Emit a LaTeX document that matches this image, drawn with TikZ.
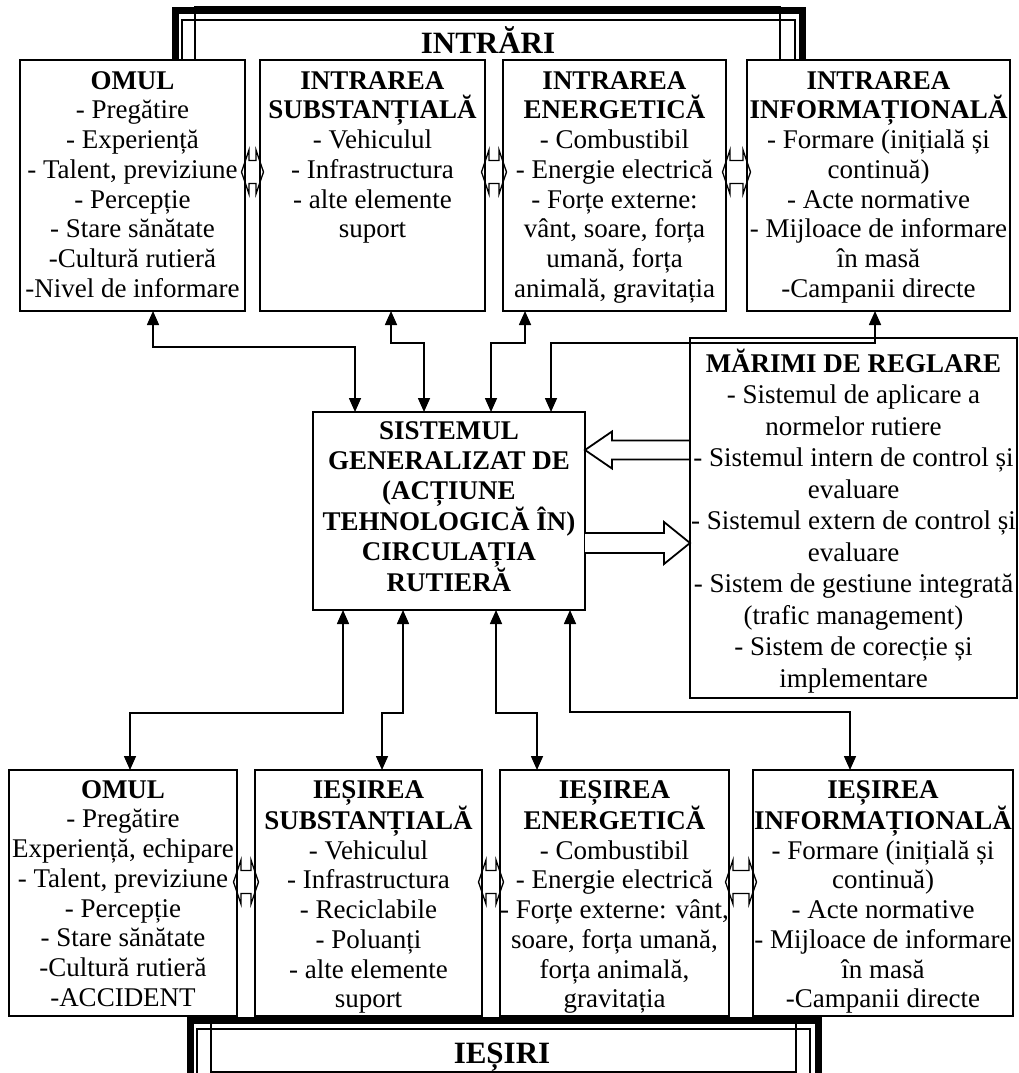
\documentclass[tikz,border=0pt]{standalone}
\usepackage{fontspec}
\setmainfont{Liberation Serif}
\usetikzlibrary{arrows.meta,calc}
\newcommand\dblarr[3]{%
  \draw[dblsym] let \p1=(#1.east), \p2=(#2.west) in
   (\x1-3.5pt,-#3pt) -- (\x1+4pt,-#3pt+22pt) -- (\x1+4pt,-#3pt+11.5pt) -- (\x2-4pt,-#3pt+11.5pt) -- (\x2-4pt,-#3pt+22pt) -- (\x2+3.5pt,-#3pt) -- (\x2-4pt,-#3pt-22pt) -- (\x2-4pt,-#3pt-11.5pt) -- (\x1+4pt,-#3pt-11.5pt) -- (\x1+4pt,-#3pt-22pt) -- cycle;}
\newcommand\fl{\rule{0pt}{26pt}}
\begin{document}
\begin{tikzpicture}[x=1pt,y=-1pt,
  box/.style={draw,line width=1.8pt,inner sep=0pt,outer sep=0pt,anchor=north west},
  txt/.style={align=center,inner sep=0pt,anchor=north,font=\fontsize{27}{29.7}\selectfont},
  txtr/.style={align=center,inner sep=0pt,anchor=north,font=\fontsize{27}{31.5}\selectfont},
  conn/.style={line width=1.6pt,{Triangle[length=14pt,width=12pt]}-{Triangle[length=14pt,width=12pt]}},
  dblsym/.style={line width=1.3pt,line join=miter},
  hollow/.style={line width=1.8pt,fill=white,line join=miter},
  ttl/.style={font=\bfseries\fontsize{31}{31}\selectfont,anchor=base,inner sep=0pt},
]
\fill[white] (0,0) rectangle (1019,1073);
\useasboundingbox (0,0) rectangle (1019,1073);

% top boxes
\node[box,minimum width=225pt,minimum height=251pt] (i1) at (20,60) {};
\node[box,minimum width=225pt,minimum height=251pt] (i2) at (260,60) {};
\node[box,minimum width=223pt,minimum height=251pt] (i3) at (503,60) {};
\node[box,minimum width=263pt,minimum height=251pt] (i4) at (747,60) {};
% central and right
\node[box,minimum width=272pt,minimum height=198pt] (c) at (313,412) {};
\node[box,minimum width=327pt,minimum height=360pt] (r) at (690,338) {};
% bottom boxes
\node[box,minimum width=228pt,minimum height=246pt] (o1) at (9,770) {};
\node[box,minimum width=227pt,minimum height=246pt] (o2) at (255,770) {};
\node[box,minimum width=229pt,minimum height=246pt] (o3) at (500,770) {};
\node[box,minimum width=260pt,minimum height=246pt] (o4) at (753,770) {};

% texts
\node[txt] (ti1) at ($(i1.north)+(0,3)$) {\fl\textbf{OMUL}\\- Pregătire\\- Experiență\\- Talent, previziune\\- Percepție\\- Stare sănătate\\-Cultură rutieră\\-Nivel de informare};
\node[txt] (ti2) at ($(i2.north)+(0,3)$) {\fl\textbf{INTRAREA}\\\textbf{SUBSTANȚIALĂ}\\- Vehiculul\\- Infrastructura\\- alte elemente\\suport};
\node[txt] (ti3) at ($(i3.north)+(0,3)$) {\fl\textbf{INTRAREA}\\\textbf{ENERGETICĂ}\\- Combustibil\\- Energie electrică\\- Forțe externe:\\vânt, soare, forța\\umană, forța\\animală, gravitația};
\node[txt] (ti4) at ($(i4.north)+(0,3)$) {\fl\textbf{INTRAREA}\\\textbf{INFORMAȚIONALĂ}\\- Formare (inițială și\\continuă)\\- Acte normative\\- Mijloace de informare\\în masă\\-Campanii directe};
\node[txt,font=\bfseries\fontsize{27}{30}\selectfont] (tc) at ($(c.north)+(0,1)$) {\fl SISTEMUL\\GENERALIZAT DE\\(ACȚIUNE\\TEHNOLOGICĂ ÎN)\\CIRCULAȚIA\\RUTIERĂ};
\node[txtr] (tr) at ($(r.north)+(0,8)$) {\fl\textbf{MĂRIMI DE REGLARE}\\- Sistemul de aplicare a\\normelor rutiere\\- Sistemul intern de control și\\evaluare\\- Sistemul extern de control și\\evaluare\\- Sistem de gestiune integrată\\(trafic management)\\- Sistem de corecție și\\implementare};
\node[txt] (to1) at ($(o1.north)+(0,2)$) {\fl\textbf{OMUL}\\- Pregătire\\Experiență, echipare\\- Talent, previziune\\- Percepție\\- Stare sănătate\\-Cultură rutieră\\-ACCIDENT};
\node[txt] (to2) at ($(o2.north)+(0,2)$) {\fl\textbf{IEȘIREA}\\\textbf{SUBSTANȚIALĂ}\\- Vehiculul\\- Infrastructura\\- Reciclabile\\- Poluanți\\- alte elemente\\suport};
\node[txt] (to3) at ($(o3.north)+(0,2)$) {\fl\textbf{IEȘIREA}\\\textbf{ENERGETICĂ}\\- Combustibil\\- Energie electrică\\- Forțe externe: vânt,\\soare, forța umană,\\forța animală,\\gravitația};
\node[txt] (to4) at ($(o4.north)+(0,2)$) {\fl\textbf{IEȘIREA}\\\textbf{INFORMAȚIONALĂ}\\- Formare (inițială și\\continuă)\\- Acte normative\\- Mijloace de informare\\în masă\\-Campanii directe};

% double arrows between boxes
\dblarr{i1}{i2}{172}
\dblarr{i2}{i3}{172}
\dblarr{i3}{i4}{172}
\dblarr{o1}{o2}{882}
\dblarr{o2}{o3}{882}
\dblarr{o3}{o4}{882}

% connectors top
\draw[conn] (i1.south -| 153,0) |- (355,347) -- (c.north -| 355,0);
\draw[conn] (i2.south -| 391,0) |- (424,343) -- (c.north -| 424,0);
\draw[conn] (i3.south -| 525,0) |- (491,343) -- (c.north -| 491,0);
\draw[conn] (i4.south -| 875,0) |- (551,343) -- (c.north -| 551,0);
% connectors bottom
\draw[conn] (c.south -| 343,0) |- (130,713) -- (o1.north -| 130,0);
\draw[conn] (c.south -| 403,0) |- (382,713) -- (o2.north -| 382,0);
\draw[conn] (c.south -| 496,0) |- (537,713) -- (o3.north -| 537,0);
\draw[conn] (c.south -| 570,0) |- (850,712) -- (o4.north -| 850,0);

% hollow arrows
\draw[hollow] (c.east |- 0,450) -- (612,431.5) -- (612,440.5) -- (r.west |- 0,440.5) -- (r.west |- 0,459.5) -- (612,459.5) -- (612,468.5) -- cycle;
\draw[hollow] (c.east |- 0,533) -- (664,533) -- (664,522) -- (r.west |- 0,543) -- (664,564) -- (664,553) -- (c.east |- 0,553);

% top frame
\draw[line width=7pt,line join=miter] (175,60) -- (175,11) -- (802,11) -- (802,60);
\draw[line width=1.3pt] (182,60) -- (182,20) -- (795,20) -- (795,60);
\draw[line width=1.3pt] (195,60) -- (195,7) -- (780,7) -- (780,60);
\node[ttl] (tin) at (488,53) {INTRĂRI};

% bottom frame
\draw[line width=7pt,line join=miter] (190,1085) -- (190,1020) -- (818,1020) -- (818,1085);
\draw[line width=1.3pt] (197,1085) -- (197,1029) -- (810,1029) -- (810,1085);
\draw[line width=1.3pt] (211,1020) rectangle (796,1072);
\node[ttl] (tout) at (502,1063) {IEȘIRI};
\end{tikzpicture}
\end{document}
